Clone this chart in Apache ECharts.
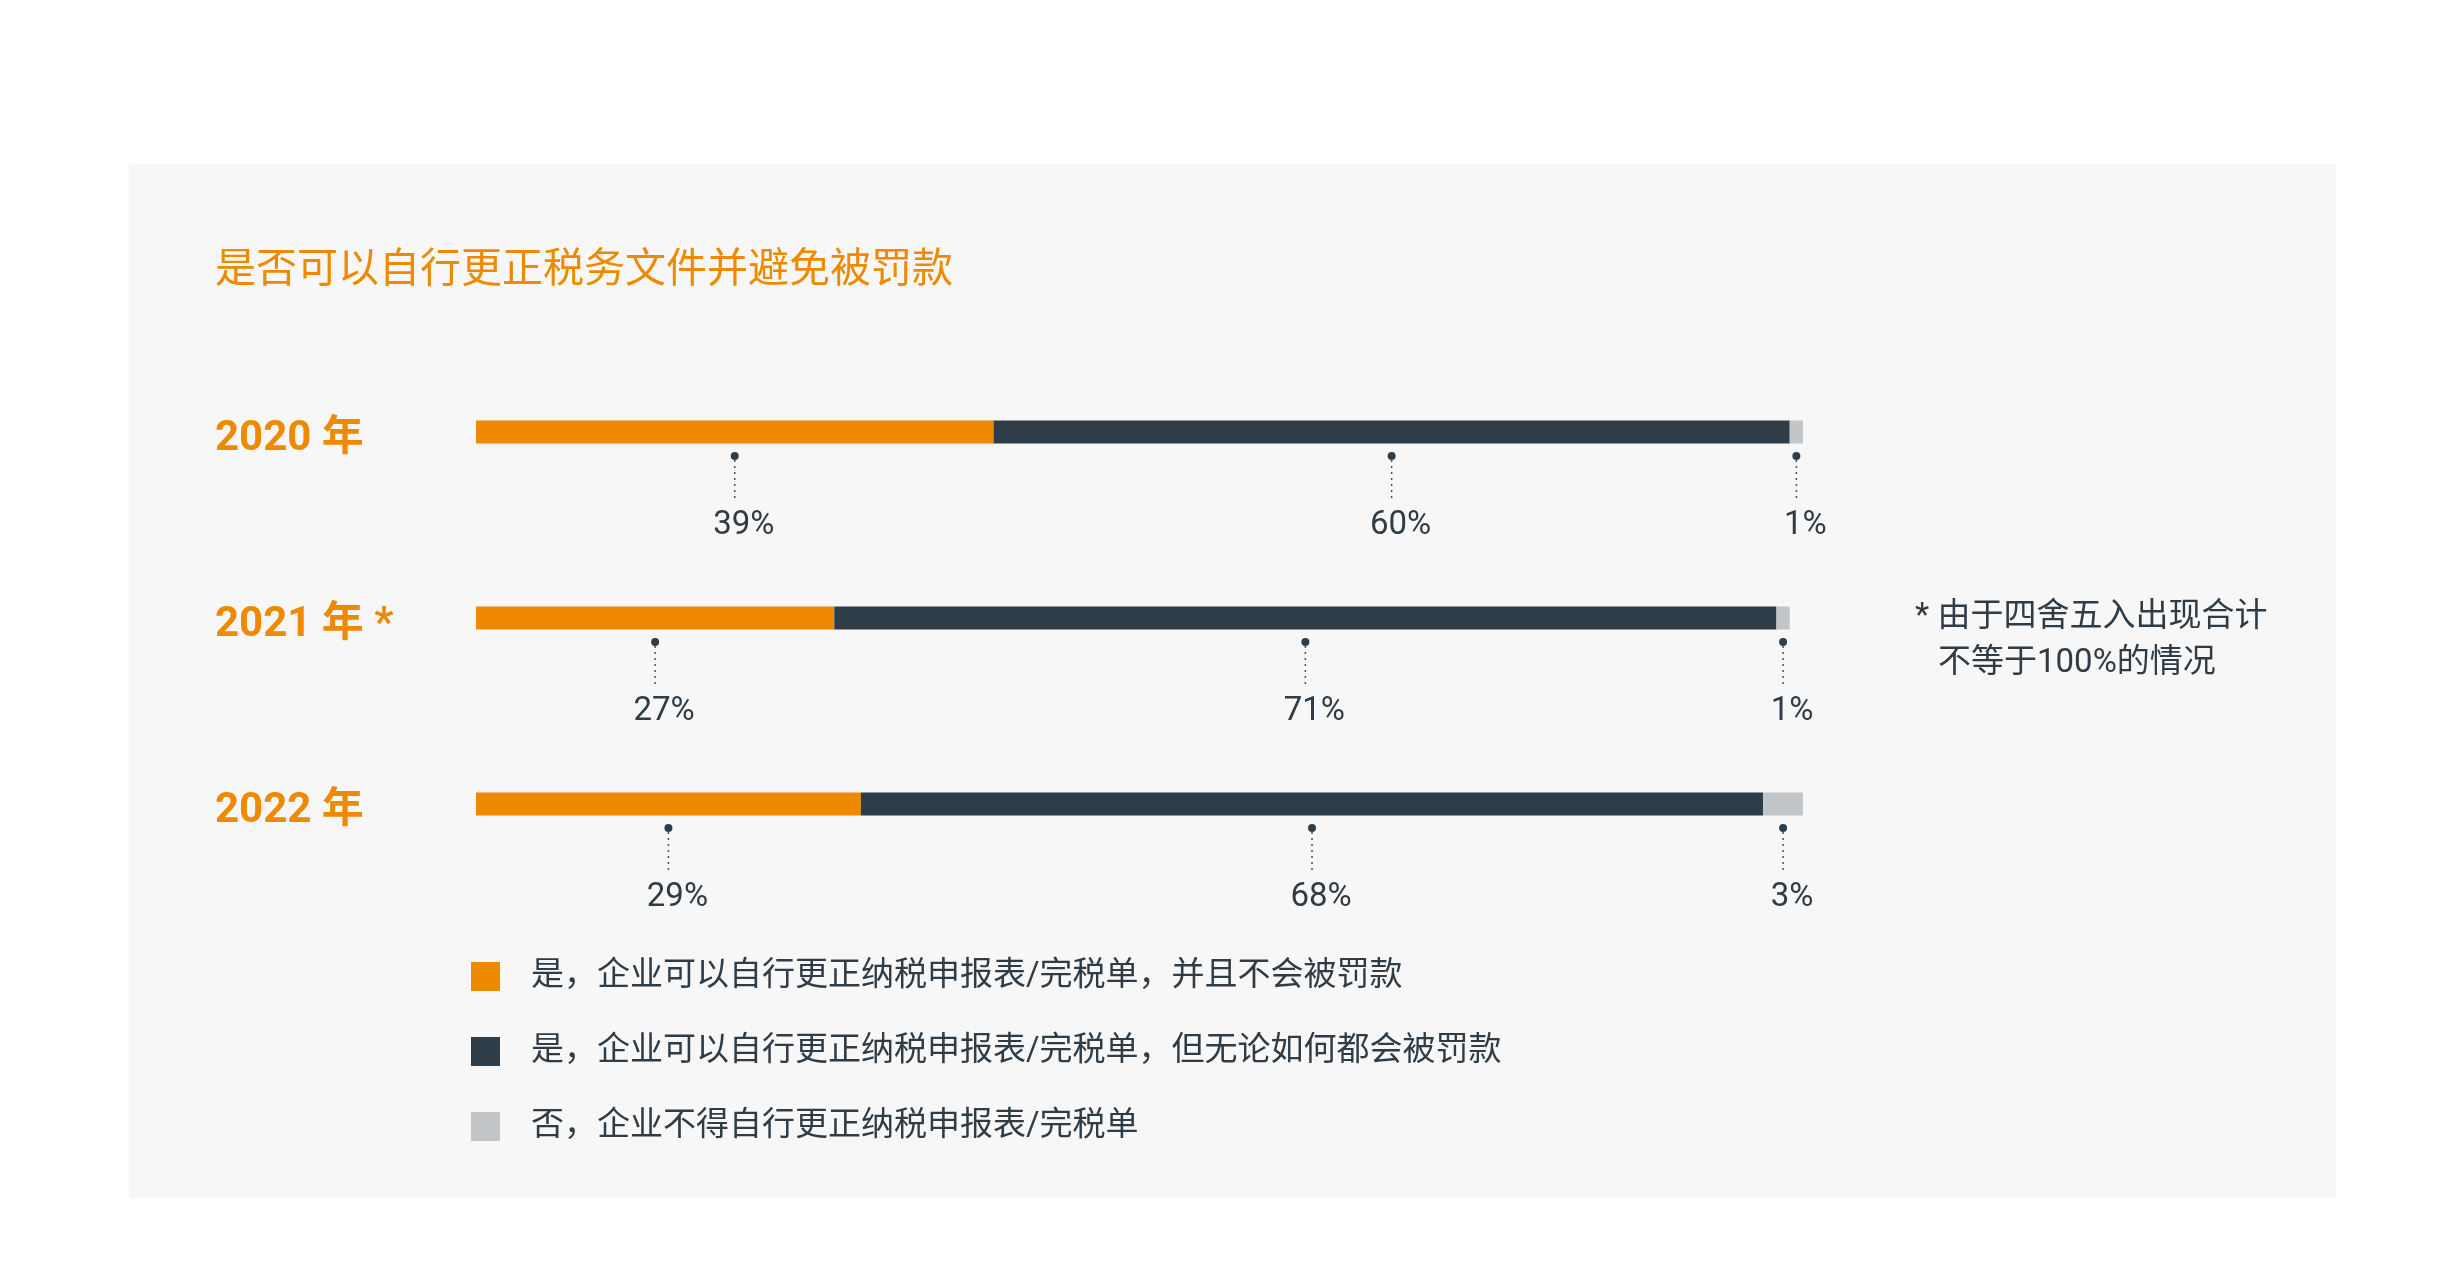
<!DOCTYPE html>
<html>
<head>
<meta charset="utf-8">
<script src="https://cdn.jsdelivr.net/npm/echarts@6/dist/echarts.min.js"></script>
<style>
  html, body { margin: 0; padding: 0; background: #ffffff; }
  #chart { width: 2459px; height: 1280px; }
</style>
</head>
<body>
<div id="chart"></div>
<script>
// 年份与三类回答的百分比
const years = ['2020 年', '2021 年 *', '2022 年'];
const seriesNames = [
    '是，企业可以自行更正纳税申报表/完税单，并且不会被罚款',
    '是，企业可以自行更正纳税申报表/完税单，但无论如何都会被罚款',
    '否，企业不得自行更正纳税申报表/完税单'
];
const yesNoPenalty = [39, 27, 29];
const yesPenalty = [60, 71, 68];
const noCorrect = [1, 1, 3];

const colors = ['#ee8900', '#2f3d48', '#c3c6c9'];
const textDark = '#2f3b45';
const font = "Roboto, 'Noto Sans CJK SC', sans-serif";

document.addEventListener('DOMContentLoaded', function () {
    const chart = echarts.init(document.getElementById('chart'));

    // 每段的起止位置，用来放下方的标注
    const values = [yesNoPenalty, yesPenalty, noCorrect];
    const pins = [];
    years.forEach(function (y, i) {
        let start = 0;
        values.forEach(function (arr) {
            pins.push([start, start + arr[i], arr[i], i]);
            start += arr[i];
        });
    });

    chart.setOption({
        backgroundColor: '#ffffff',
        animation: false,
        textStyle: { fontFamily: font },
        graphic: [
            {
                type: 'rect', z: -10, silent: true,
                shape: { x: 129, y: 164, width: 2207, height: 1034 },
                style: { fill: '#f7f7f7' }
            },
            {
                type: 'text', left: 215, top: 251,
                style: { text: '是否可以自行更正税务文件并避免被罚款', fill: '#ee8900', font: '41px ' + font }
            },
            {
                type: 'text', left: 1915, top: 601,
                style: { text: '* 由于四舍五入出现合计', fill: textDark, font: '33px ' + font }
            },
            {
                type: 'text', left: 1938, top: 647,
                style: { text: '不等于100%的情况', fill: textDark, font: '33px ' + font }
            }
        ],
        legend: {
            orient: 'vertical',
            left: 471,
            top: 960,
            padding: 0,
            itemWidth: 29,
            itemHeight: 29,
            itemGap: 42,
            icon: 'rect',
            data: seriesNames,
            selectedMode: false,
            textStyle: { fontSize: 33, color: textDark, fontFamily: font, lineHeight: 29, padding: [0, 0, 0, 26] }
        },
        grid: { left: 476, right: 656, top: 339, height: 558 },
        xAxis: { type: 'value', min: 0, max: 100, show: false },
        yAxis: {
            type: 'category',
            data: years,
            inverse: true,
            axisLine: { show: false },
            axisTick: { show: false },
            splitLine: { show: false },
            axisLabel: {
                margin: 261,
                align: 'left',
                formatter: function (v) { return '{y|' + v + '}'; },
                rich: {
                    y: {
                        fontSize: 42,
                        fontWeight: 'bold',
                        color: '#ee8900',
                        fontFamily: font,
                        padding: [14, 0, 0, 0]
                    }
                }
            }
        },
        series: [
            { name: seriesNames[0], type: 'bar', stack: 'all', barWidth: 23, data: yesNoPenalty, itemStyle: { color: colors[0] } },
            { name: seriesNames[1], type: 'bar', stack: 'all', barWidth: 23, data: yesPenalty, itemStyle: { color: colors[1] } },
            { name: seriesNames[2], type: 'bar', stack: 'all', barWidth: 23, data: noCorrect, itemStyle: { color: colors[2] } },
            {
                type: 'custom',
                name: 'pins',
                silent: true,
                encode: { x: [0, 1], y: 3 },
                data: pins,
                renderItem: function (params, api) {
                    const mid = (api.value(0) + api.value(1)) / 2;
                    const p = api.coord([mid, api.value(3)]);
                    return {
                        type: 'group',
                        children: [
                            {
                                type: 'line',
                                shape: { x1: p[0], y1: p[1] + 28, x2: p[0], y2: p[1] + 67 },
                                style: { stroke: '#4a545c', lineWidth: 1.5, lineDash: [2, 4] }
                            },
                            {
                                type: 'circle',
                                shape: { cx: p[0], cy: p[1] + 24, r: 4 },
                                style: { fill: colors[1] }
                            },
                            {
                                type: 'text',
                                x: p[0] + 9,
                                y: p[1] + 94,
                                style: {
                                    text: api.value(2) + '%',
                                    fill: textDark,
                                    font: '33px ' + font,
                                    align: 'center',
                                    verticalAlign: 'middle'
                                }
                            }
                        ]
                    };
                }
            }
        ]
    });
});
</script>
</body>
</html>
